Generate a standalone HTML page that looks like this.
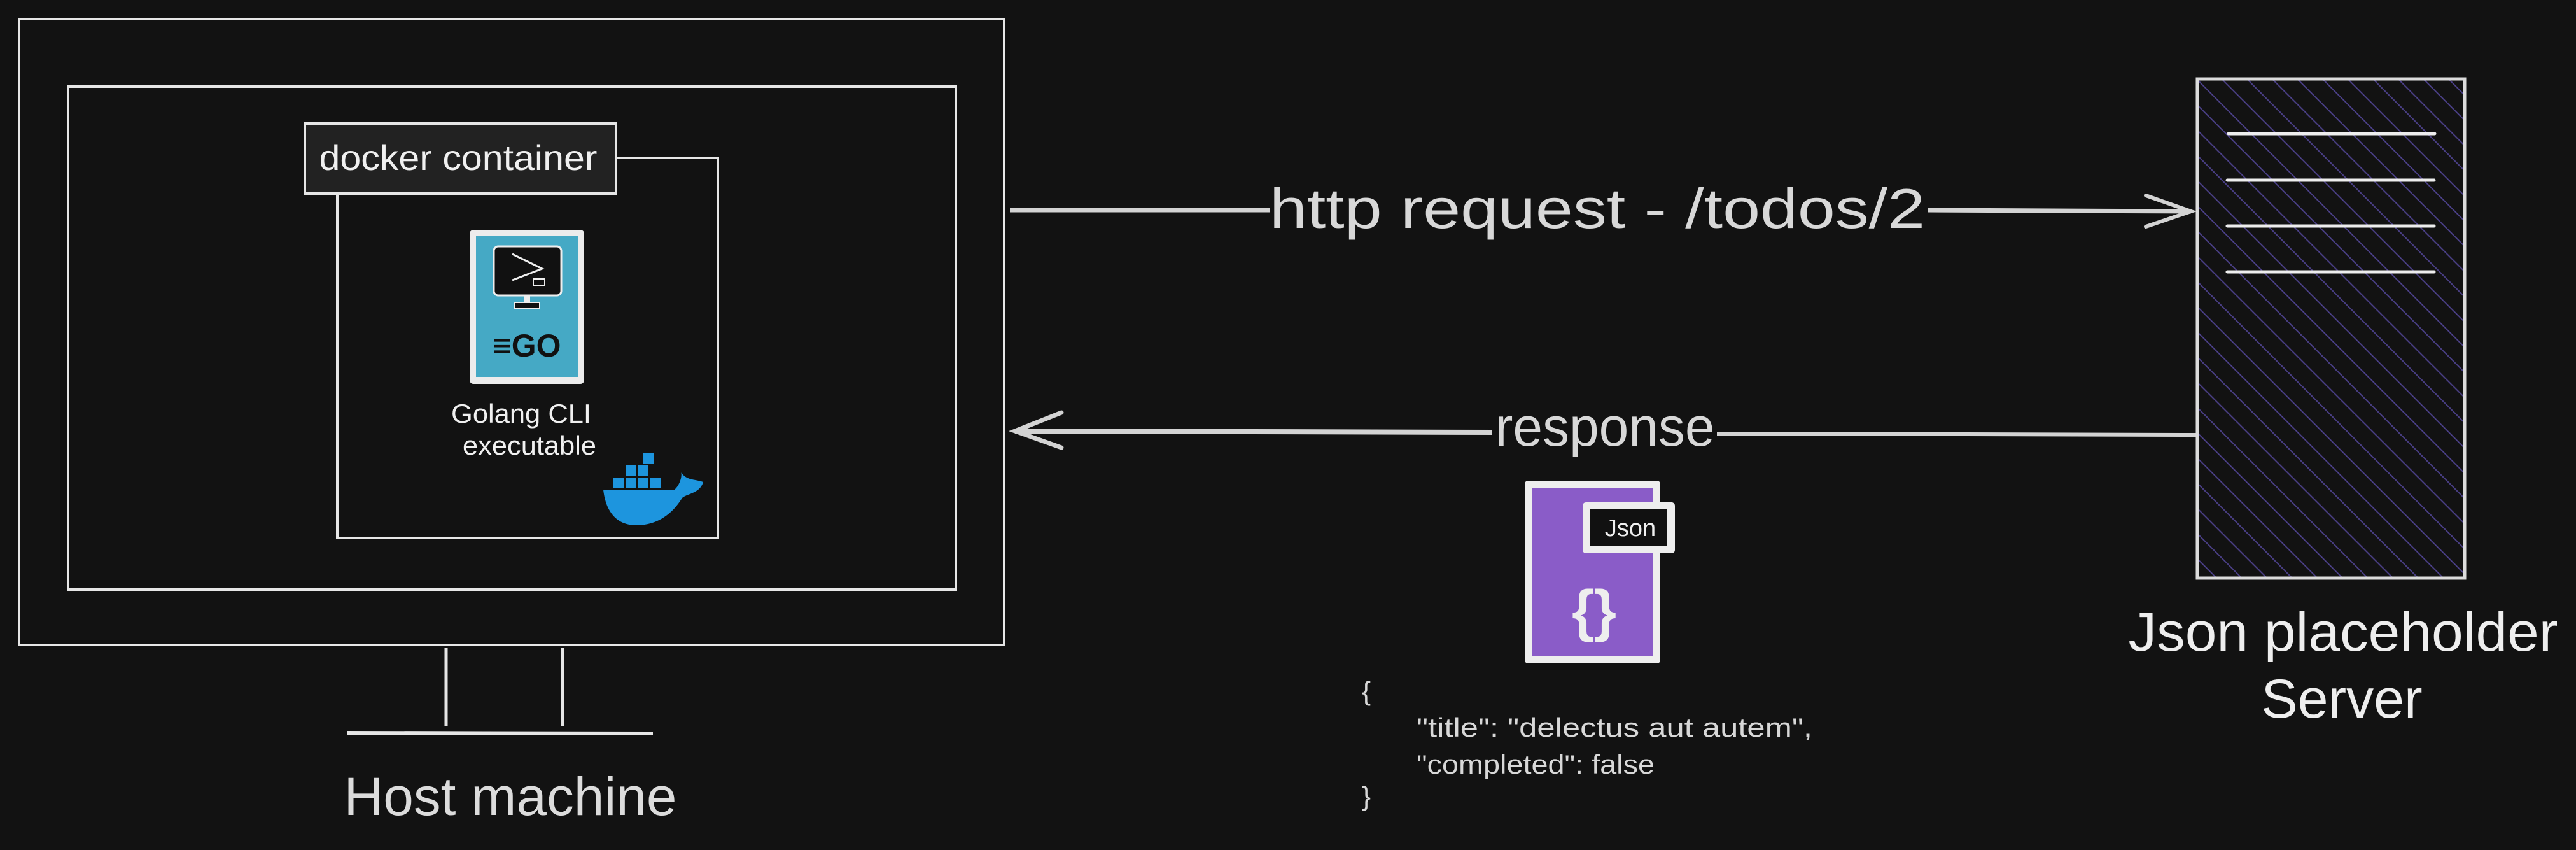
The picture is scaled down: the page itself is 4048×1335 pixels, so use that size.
<!DOCTYPE html>
<html><head><meta charset="utf-8"><style>html,body{margin:0;padding:0;background:#121212;}svg{display:block}</style></head>
<body>
<svg width="4048" height="1335" viewBox="0 0 4048 1335" xmlns="http://www.w3.org/2000/svg" font-family="Liberation Sans, sans-serif">
<defs>
<pattern id="hatch" patternUnits="userSpaceOnUse" width="28" height="28" patternTransform="rotate(-45)">
<line x1="0" y1="0" x2="0" y2="28" stroke="#4a3f86" stroke-width="4"/>
</pattern>
</defs>
<rect width="4048" height="1335" fill="#121212"/>
<!-- monitor -->
<rect x="30" y="30" width="1548" height="983" fill="none" stroke="#e6e6e6" stroke-width="4"/>
<rect x="107" y="136" width="1395" height="790" fill="none" stroke="#e6e6e6" stroke-width="4"/>
<line x1="701" y1="1017" x2="701" y2="1141" stroke="#e6e6e6" stroke-width="5"/>
<line x1="884" y1="1017" x2="884" y2="1141" stroke="#e6e6e6" stroke-width="5"/>
<line x1="545" y1="1151" x2="1026" y2="1152" stroke="#e6e6e6" stroke-width="6"/>
<text x="802" y="1280" font-size="84" fill="#dcdcdc" text-anchor="middle" textLength="523" lengthAdjust="spacingAndGlyphs">Host machine</text>
<!-- container -->
<rect x="530" y="248" width="598" height="597" fill="none" stroke="#e6e6e6" stroke-width="4"/>
<rect x="479" y="194" width="489" height="110" fill="#222" stroke="#e6e6e6" stroke-width="4"/>
<text x="720" y="267" font-size="56" fill="#f0f0f0" text-anchor="middle" textLength="437" lengthAdjust="spacingAndGlyphs">docker container</text>
<!-- go icon -->
<rect x="738" y="361" width="180" height="242" rx="6" fill="#ececec"/>
<rect x="748" y="370" width="160" height="222" fill="#45a9c5"/>
<rect x="776" y="387" width="106" height="77" rx="7" fill="#111" stroke="#eee" stroke-width="3"/>
<path d="M805 399 L852 422 L805 440" fill="none" stroke="#eee" stroke-width="3"/>
<rect x="838" y="438" width="18" height="10" fill="none" stroke="#eee" stroke-width="2"/>
<rect x="823" y="464" width="10" height="10" fill="#eee"/>
<rect x="808" y="475" width="40" height="9" fill="#111" stroke="#eee" stroke-width="2"/>
<text x="828" y="560" font-size="50" font-weight="bold" fill="#111" text-anchor="middle">≡GO</text>
<text x="819" y="664" font-size="42" fill="#f0f0f0" text-anchor="middle" textLength="220" lengthAdjust="spacingAndGlyphs">Golang CLI</text>
<text x="832" y="714" font-size="42" fill="#f0f0f0" text-anchor="middle" textLength="210" lengthAdjust="spacingAndGlyphs">executable</text>
<!-- whale -->
<g fill="#1d95de">
<rect x="1011" y="711" width="17" height="17"/>
<rect x="983" y="730" width="17" height="17"/><rect x="1002" y="730" width="17" height="17"/>
<rect x="964" y="750" width="17" height="17"/><rect x="983" y="750" width="17" height="17"/><rect x="1002" y="750" width="17" height="17"/><rect x="1021" y="750" width="17" height="17"/>
<path d="M948 769 L1060 769 C1070 760 1072 745 1070 742 C1080 755 1090 752 1105 757 C1100 775 1080 775 1072 782 C1055 810 1030 825 1000 825 C970 825 952 805 948 769 Z"/>
</g>
<!-- http arrow -->
<line x1="1587" y1="330" x2="1995" y2="330" stroke="#d3d3d3" stroke-width="7"/>
<line x1="3030" y1="330" x2="3443" y2="332" stroke="#d3d3d3" stroke-width="7"/>
<path d="M3372 307 L3443 332 L3372 356" fill="none" stroke="#d3d3d3" stroke-width="6" stroke-linecap="round"/>
<text x="2510" y="358" font-size="88" fill="#d8d8d8" text-anchor="middle" textLength="1030" lengthAdjust="spacingAndGlyphs">http request - /todos/2</text>
<!-- response arrow -->
<line x1="1595" y1="677" x2="2345" y2="679" stroke="#d3d3d3" stroke-width="8"/>
<line x1="2698" y1="681" x2="3451" y2="683" stroke="#d3d3d3" stroke-width="6"/>
<path d="M1668 648 L1595 677 L1668 703" fill="none" stroke="#d3d3d3" stroke-width="7" stroke-linecap="round"/>
<text x="2522" y="700" font-size="86" fill="#d8d8d8" text-anchor="middle" textLength="345" lengthAdjust="spacingAndGlyphs">response</text>
<!-- json doc -->
<rect x="2396" y="755" width="213" height="287" rx="5" fill="#eeeeee"/>
<rect x="2408" y="766" width="189" height="264" fill="#8a5cc8"/>
<rect x="2487" y="789" width="145" height="80" rx="5" fill="#eee"/>
<rect x="2498" y="799" width="122" height="58" fill="#111"/>
<text x="2562" y="842" font-size="38" fill="#f0f0f0" text-anchor="middle">Json</text>
<text x="2505" y="990" font-size="90" font-weight="bold" fill="#eee" text-anchor="middle">{}</text>
<!-- json text -->
<g font-size="42" fill="#d8d8d8">
<text x="2140" y="1100">{</text>
<text x="2226" y="1157" textLength="622" lengthAdjust="spacingAndGlyphs">"title": "delectus aut autem",</text>
<text x="2226" y="1215" textLength="374" lengthAdjust="spacingAndGlyphs">"completed": false</text>
<text x="2140" y="1265">}</text>
</g>
<!-- server -->
<rect x="3453" y="124" width="420" height="784" fill="url(#hatch)" stroke="#dcdcdc" stroke-width="5"/>
<g stroke="#eee" stroke-width="5" stroke-linecap="round">
<line x1="3502" y1="210" x2="3826" y2="210"/>
<line x1="3500" y1="283" x2="3825" y2="283"/>
<line x1="3500" y1="355" x2="3825" y2="355"/>
<line x1="3500" y1="427" x2="3825" y2="427"/>
</g>
<text x="3682" y="1022" font-size="86" fill="#eeeeee" text-anchor="middle" textLength="675" lengthAdjust="spacingAndGlyphs">Json placeholder</text>
<text x="3680" y="1127" font-size="86" fill="#eeeeee" text-anchor="middle">Server</text>
</svg>
</body></html>
